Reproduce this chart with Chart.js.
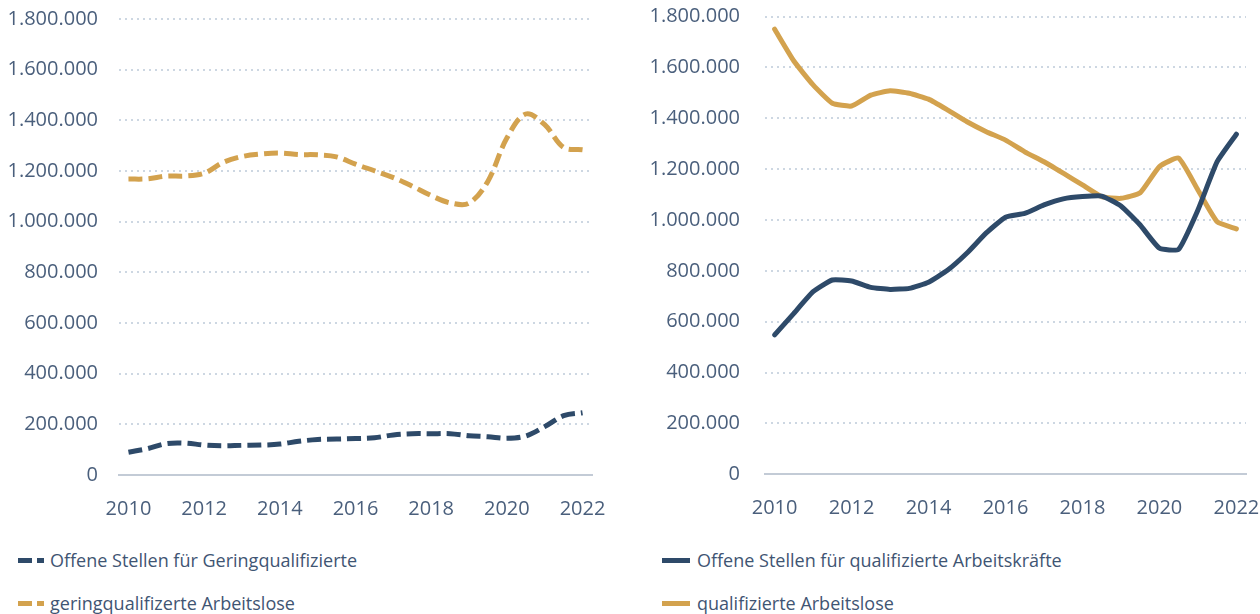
<!DOCTYPE html>
<html lang="de">
<head>
<meta charset="utf-8">
<title>Offene Stellen und Arbeitslose nach Qualifikation</title>
<script src="https://cdn.jsdelivr.net/npm/chart.js@4.4.1/dist/chart.umd.min.js"></script>
<style>
  html, body { margin: 0; padding: 0; background: #fff; }
  body { width: 1260px; height: 614px; overflow: hidden; position: relative; font-family: "Open Sans", sans-serif; }
  canvas { position: absolute; top: 0; }
  .item { position: absolute; display: flex; align-items: center; height: 26px; font-size: 18px; color: #3f5573; white-space: nowrap; }
  .mark { display: inline-block; height: 5px; }
</style>
</head>
<body>
<canvas id="chartLeft" style="left:0" width="612" height="522"></canvas>
<canvas id="chartRight" style="left:640px" width="620" height="522"></canvas>
<div id="legendLeft"></div>
<div id="legendRight"></div>
<script>
// half-year periods 2010 - 2022
const periods = [
  '2010 H1', '2010 H2', '2011 H1', '2011 H2', '2012 H1', '2012 H2', '2013 H1', '2013 H2',
  '2014 H1', '2014 H2', '2015 H1', '2015 H2', '2016 H1', '2016 H2', '2017 H1', '2017 H2',
  '2018 H1', '2018 H2', '2019 H1', '2019 H2', '2020 H1', '2020 H2', '2021 H1', '2021 H2',
  '2022 H1'
];
const xTickYears = ['2010', '2012', '2014', '2016', '2018', '2020', '2022'];
const yTicks = [0, 200000, 400000, 600000, 800000, 1000000, 1200000, 1400000, 1600000, 1800000];

// left panel: Geringqualifizierte
const offeneGering = [
  90000, 104000, 124000, 126000, 118000, 115000, 117000, 118000, 122000, 133000,
  140000, 142000, 144000, 147000, 158000, 163000, 163000, 163000, 155000, 151000,
  145000, 154000, 191000, 234000, 246000
];
const arbeitsloseGering = [
  1168000, 1169000, 1180000, 1180000, 1191000, 1234000, 1257000, 1267000, 1271000, 1265000,
  1264000, 1256000, 1227000, 1201000, 1174000, 1140000, 1103000, 1074000, 1073000, 1160000,
  1330000, 1425000, 1383000, 1293000, 1284000
];

// right panel: qualifizierte
const offeneQuali = [
  548000, 633000, 718000, 764000, 760000, 735000, 727000, 731000, 755000, 803000,
  870000, 949000, 1011000, 1026000, 1059000, 1083000, 1092000, 1094000, 1055000, 980000,
  889000, 885000, 1039000, 1229000, 1337000
];
const arbeitsloseQuali = [
  1750000, 1625000, 1531000, 1459000, 1448000, 1491000, 1508000, 1498000, 1475000, 1432000,
  1386000, 1347000, 1314000, 1268000, 1229000, 1184000, 1138000, 1092000, 1085000, 1107000,
  1210000, 1243000, 1118000, 993000, 965000
];

const NAVY = '#2e4a69';
const GOLD = '#d3a24e';
const TEXT = '#4a5f7c';
const GRID = '#cdd7e2';

const fmt = v => String(v).replace(/\B(?=(\d{3})+(?!\d))/g, '.');

function makeChart(id, sets, dashed, opts) {
  return new Chart(document.getElementById(id), {
    type: 'line',
    data: {
      labels: periods,
      datasets: sets.map(s => ({
        label: s.label,
        data: s.data,
        borderColor: s.color,
        backgroundColor: s.color,
        borderWidth: 5,
        borderDash: dashed ? [14, 6] : [],
        borderCapStyle: dashed ? 'butt' : 'round',
        borderJoinStyle: 'round',
        pointRadius: 0,
        tension: opts.tension,
        fill: false
      }))
    },
    options: {
      responsive: false,
      animation: false,
      layout: { padding: { top: opts.top, right: opts.right, left: 0, bottom: 0 } },
      plugins: { legend: { display: false }, tooltip: { enabled: false } },
      scales: {
        x: {
          type: 'category',
          offset: true,
          grid: { display: false },
          border: { display: true, color: '#c3cbd6', width: 2 },
          // fixed axis height, no extra side padding from the tick labels
          afterFit: s => { s.height = opts.xHeight; s.paddingLeft = 0; s.paddingRight = 0; },
          ticks: {
            autoSkip: false, maxRotation: 0, minRotation: 0, padding: 14,
            color: TEXT, font: { family: 'Open Sans', size: 20 },
            callback: (v, i) => {
              const p = periods[i];
              const yr = p.slice(0, 4);
              return p.endsWith('H1') && xTickYears.includes(yr) ? yr : '';
            }
          }
        },
        y: {
          min: 0, max: 1800000,
          afterBuildTicks: s => { s.ticks = yTicks.map(v => ({ value: v })); },
          afterFit: s => { s.width = opts.yWidth; s.paddingTop = 0; s.paddingBottom = 0; },
          border: { display: false, dash: [2, 4] },
          grid: {
            drawTicks: false,
            lineWidth: 2,
            color: c => (c.tick && c.tick.value === 0) ? 'rgba(0,0,0,0)' : GRID
          },
          ticks: {
            padding: opts.yPad,
            color: TEXT, font: { family: 'Open Sans', size: 20 },
            callback: v => fmt(v)
          }
        }
      }
    }
  });
}

const left = makeChart('chartLeft', [
  { label: 'Offene Stellen für Geringqualifizierte', data: offeneGering, color: NAVY },
  { label: 'geringqualifizerte Arbeitslose', data: arbeitsloseGering, color: GOLD }
], true, { tension: 0.35, top: 19, right: 20, xHeight: 47, yWidth: 119, yPad: 21 });

const right = makeChart('chartRight', [
  { label: 'Offene Stellen für qualifizierte Arbeitskräfte', data: offeneQuali, color: NAVY },
  { label: 'qualifizierte Arbeitslose', data: arbeitsloseQuali, color: GOLD }
], false, { tension: 0.15, top: 16.5, right: 14, xHeight: 47.7, yWidth: 125, yPad: 25 });

// html legend, one item per row
function buildLegend(chart, el, x, dashed) {
  const rows = [560, 603];
  chart.data.datasets.forEach((ds, i) => {
    const item = document.createElement('div');
    item.className = 'item';
    item.style.left = x + 'px';
    item.style.top = (rows[i] - 13) + 'px';
    if (dashed) {
      item.innerHTML =
        `<span class="mark" style="width:14px;background:${ds.borderColor}"></span>` +
        `<span class="mark" style="width:7px;margin-left:5px;background:${ds.borderColor}"></span>`;
    } else {
      item.innerHTML = `<span class="mark" style="width:28px;background:${ds.borderColor}"></span>`;
    }
    const txt = document.createElement('span');
    txt.style.marginLeft = dashed ? '6px' : '7px';
    txt.textContent = ds.label;
    item.append(txt);
    el.append(item);
  });
}
buildLegend(left, document.getElementById('legendLeft'), 18, true);
buildLegend(right, document.getElementById('legendRight'), 662, false);
</script>
</body>
</html>
